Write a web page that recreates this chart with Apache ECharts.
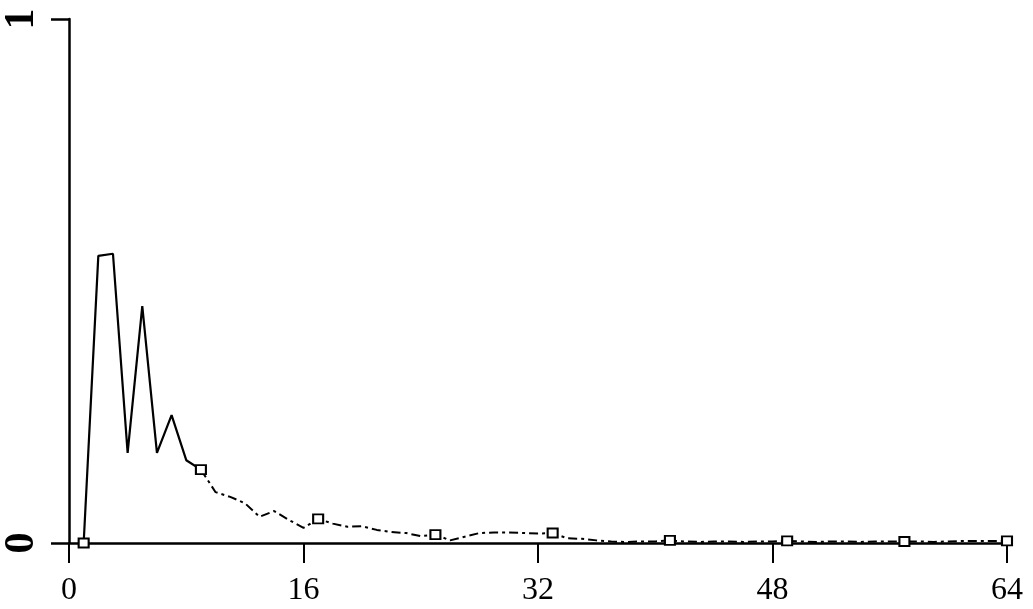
<!DOCTYPE html>
<html>
<head>
<meta charset="utf-8">
<script src="https://cdn.jsdelivr.net/npm/echarts@6/dist/echarts.min.js"></script>
<style>
  * { margin: 0; padding: 0; }
  html, body { background: #fff; }
  #main { width: 1033px; height: 609px; }
</style>
</head>
<body>
<div id="main"></div>
<script>
// sample index along the x axis
var xs = [1, 2, 3, 4, 5, 6, 7, 8, 9, 10, 11, 12, 13, 14, 15, 16, 17, 18, 19, 20,
          21, 22, 23, 24, 25, 26, 27, 28, 29, 30, 31, 32, 33, 34, 35, 36, 37, 38, 39, 40,
          41, 42, 43, 44, 45, 46, 47, 48, 49, 50, 51, 52, 53, 54, 55, 56, 57, 58, 59, 60,
          61, 62, 63, 64];
// values
var ys = [0, 0.548, 0.552, 0.172, 0.452, 0.172, 0.244, 0.158, 0.14, 0.097,
          0.088, 0.076, 0.05, 0.061, 0.044, 0.029, 0.046, 0.037, 0.031, 0.032,
          0.025, 0.021, 0.019, 0.013, 0.016, 0.005, 0.012, 0.019, 0.02, 0.02,
          0.019, 0.018, 0.019, 0.009, 0.008, 0.005, 0.003, 0.002, 0.003, 0.003,
          0.005, 0.003, 0.002, 0.003, 0.003, 0.002, 0.003, 0.003, 0.004, 0.003,
          0.002, 0.003, 0.003, 0.002, 0.003, 0.003, 0.003, 0.003, 0.002, 0.003,
          0.004, 0.004, 0.004, 0.004];
// x positions that carry a square marker
var markerX = [1, 9, 17, 25, 33, 41, 49, 57, 64];
var xTicks = [0, 16, 32, 48, 64];
var yTicks = [0, 1];

var head = [], tail = [], marks = [];
for (var i = 0; i < xs.length; i++) {
    if (xs[i] <= 9) head.push([xs[i], ys[i]]);
    if (xs[i] >= 9) tail.push([xs[i], ys[i]]);
}
markerX.forEach(function (m) {
    marks.push([m, ys[xs.indexOf(m)]]);
});

var chart = echarts.init(document.getElementById('main'));
chart.setOption({
    backgroundColor: '#fff',
    animation: false,
    grid: { left: 69, right: 26, top: 19, bottom: 66 },
    xAxis: {
        type: 'value',
        min: xTicks[0],
        max: xTicks[xTicks.length - 1],
        interval: 16,
        splitLine: { show: false },
        axisLine: { lineStyle: { color: '#000', width: 2.5 } },
        axisTick: { length: 20, lineStyle: { color: '#000', width: 2 } },
        axisLabel: {
            margin: 32,
            color: '#000',
            fontFamily: 'Liberation Serif',
            fontSize: 32
        }
    },
    yAxis: {
        type: 'value',
        min: yTicks[0],
        max: yTicks[1],
        interval: 1,
        splitLine: { show: false },
        axisLine: { show: true, lineStyle: { color: '#000', width: 2.5 } },
        axisTick: { length: 18, lineStyle: { color: '#000', width: 2.5 } },
        axisLabel: {
            rotate: 90,
            margin: 26,
            color: '#000',
            fontFamily: 'Liberation Serif',
            fontWeight: 'bold',
            fontSize: 42
        }
    },
    series: [{
        type: 'line',
        data: head,
        symbol: 'none',
        lineStyle: { color: '#000', width: 2.2 }
    }, {
        type: 'line',
        data: tail,
        symbol: 'none',
        lineStyle: { color: '#000', width: 2, type: [9, 4, 3, 4] }
    }, {
        type: 'scatter',
        data: marks,
        symbol: 'rect',
        symbolSize: [10, 9],
        itemStyle: { color: '#fff', borderColor: '#000', borderWidth: 2, opacity: 1 },
        z: 5
    }]
});
</script>
</body>
</html>
